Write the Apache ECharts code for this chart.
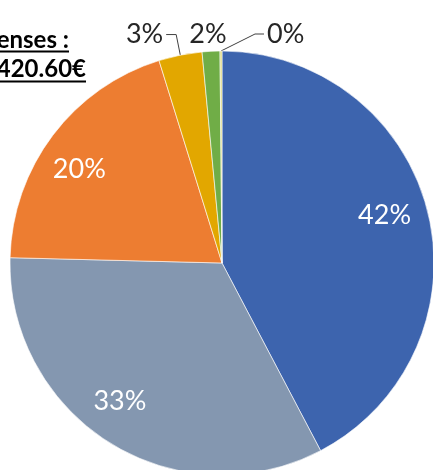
<!DOCTYPE html>
<html><head><meta charset="utf-8">
<script src="https://cdn.jsdelivr.net/npm/echarts@6/dist/echarts.min.js"></script>
<style>html,body{margin:0;padding:0;background:#fff}#c{width:433px;height:470px}</style>
</head><body><div id="c"></div>
<script>
// Data
const categories = ['Item 1', 'Item 2', 'Item 3', 'Item 4', 'Item 5', 'Item 6'];
const values = [42.3, 33.1, 19.8, 3.3, 1.35, 0.15];
const pctLabels = ['42%', '33%', '20%', '3%', '2%', '0%'];
const colors = ['#3D64AE', '#8497B0', '#ED7D31', '#E2A700', '#70AD47', '#DDD77A'];
const titleLines = ['Expenses :', '420.60€'];
const insideIdx = [0, 1, 2];

const CENTER = [222, 263];
const R = 212;
const FONT = 'Lato, "Open Sans", sans-serif';

const lineLen = [0, 0, 0, 21, 17, 17];
const lineLen2 = [0, 0, 0, 10, 0, 9];
// fine label nudges for inside labels (style only)
const insideNudge = [[-5, -6], [-11, -8], [-5, 10]];

const mainData = categories.map((name, i) => ({
  name, value: values[i],
  itemStyle: { color: colors[i] },
  label: { show: insideIdx.indexOf(i) < 0 },
  labelLine: {
    show: insideIdx.indexOf(i) < 0,
    length: lineLen[i], length2: lineLen2[i],
    lineStyle: i === 4 ? { opacity: 0 } : {}
  }
}));

const overlayData = categories.map((name, i) => ({
  name, value: values[i],
  label: { show: insideIdx.indexOf(i) >= 0 }
}));

const chart = echarts.init(document.getElementById('c'), null, { renderer: 'canvas' });
chart.setOption({
  animation: false,
  backgroundColor: '#fff',
  graphic: [
    { type: 'text', x: 69, y: 40, style: { text: titleLines[0], font: 'bold 24px ' + FONT, fill: '#000', align: 'right', verticalAlign: 'middle' } },
    { type: 'line', shape: { x1: 0, y1: 51.5, x2: 69, y2: 51.5 }, style: { stroke: '#000', lineWidth: 2 } },
    { type: 'text', x: 86, y: 69, style: { text: titleLines[1], font: 'bold 24px ' + FONT, fill: '#000', align: 'right', verticalAlign: 'middle' } },
    { type: 'line', shape: { x1: 0, y1: 81.5, x2: 86, y2: 81.5 }, style: { stroke: '#000', lineWidth: 2 } }
  ],
  series: [
    {
      type: 'pie',
      center: CENTER,
      radius: R,
      startAngle: 90,
      clockwise: true,
      avoidLabelOverlap: false,
      silent: true,
      itemStyle: { borderColor: '#fff', borderWidth: 0.6 },
      label: {
        position: 'outside',
        color: '#262626',
        fontFamily: FONT,
        fontSize: 27,
        padding: [0, 0, 16, 0],
        distanceToLabelLine: 3,
        formatter: p => pctLabels[p.dataIndex]
      },
      labelLine: { lineStyle: { color: '#404040', width: 1 } },
      labelLayout: function (params) {
        const pts = params.labelLinePoints;
        if (!pts) return {};
        if (params.dataIndex === 4) {
          return { x: pts[0][0] - 3, y: pts[1][1], align: 'center', verticalAlign: 'middle', labelLinePoints: pts };
        }
        if (params.dataIndex === 5) {
          const p0 = pts[0], p1 = pts[1], p2 = pts[2];
          const rise = p0[1] - p1[1];
          const P1 = [p0[0] + 2 * rise, p1[1]];
          const P2 = [P1[0] + Math.abs(p1[0] - p2[0]), p1[1]];
          return { x: P2[0] + 3, y: P2[1], align: 'left', verticalAlign: 'middle', labelLinePoints: [p0, P1, P2] };
        }
        return {};
      },
      data: mainData
    },
    {
      type: 'pie',
      center: CENTER,
      radius: [R * 0.6, R],
      startAngle: 90,
      clockwise: true,
      silent: true,
      avoidLabelOverlap: false,
      itemStyle: { color: 'rgba(0,0,0,0)', borderWidth: 0 },
      label: {
        position: 'inside',
        color: '#fff',
        fontFamily: FONT,
        fontSize: 27,
        formatter: p => pctLabels[p.dataIndex]
      },
      labelLine: { show: false },
      labelLayout: function (params) {
        const n = insideNudge[params.dataIndex];
        return n ? { dx: n[0], dy: n[1] } : {};
      },
      data: overlayData
    }
  ]
});
</script></body></html>
